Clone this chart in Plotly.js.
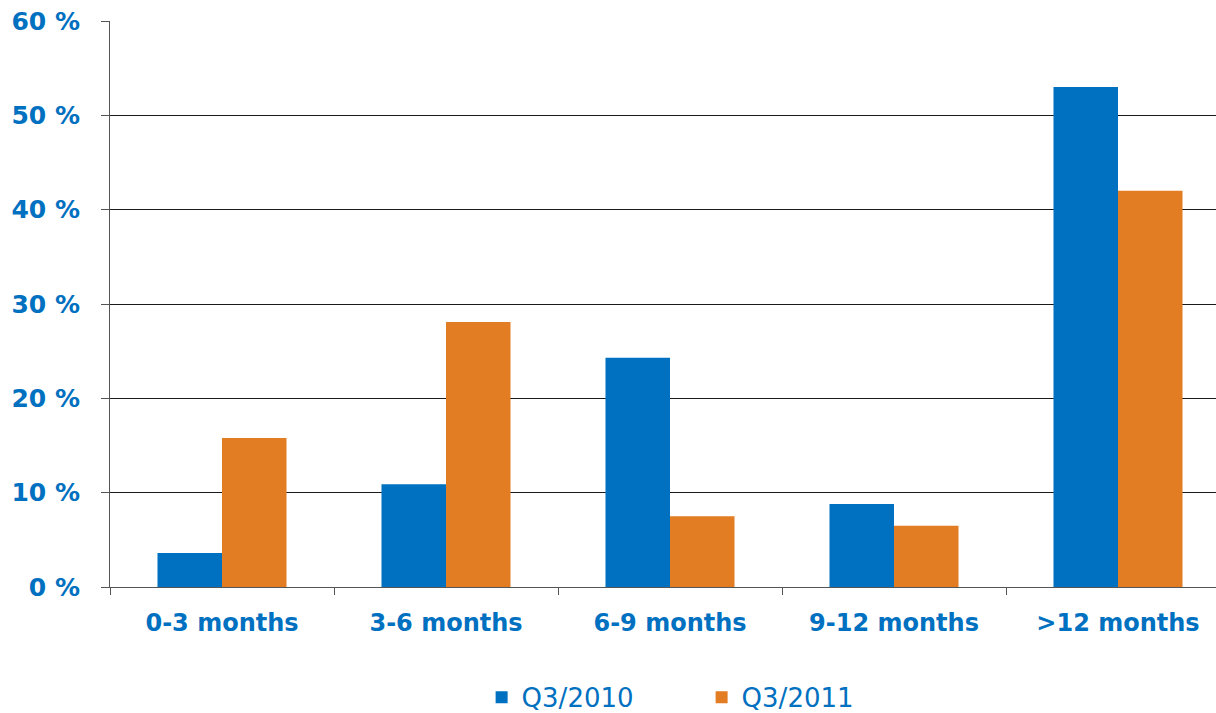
<!DOCTYPE html>
<html>
<head>
<meta charset="utf-8">
<script src="https://cdn.plot.ly/plotly-3.0.1.min.js"></script>
<style>html,body{margin:0;padding:0;background:#fff;}#chart{width:1216px;height:713px;}</style>
</head>
<body>
<div id="chart"></div>
<script>
const categories = ["0-3 months", "3-6 months", "6-9 months", "9-12 months", ">12 months"];
const q3_2010 = [3.6, 10.9, 24.3, 8.8, 53.0];
const q3_2011 = [15.8, 28.1, 7.5, 6.5, 42.0];
const seriesNames = ["Q3/2010", "Q3/2011"];
const yTickVals = [0, 10, 20, 30, 40, 50, 60];
const yTickText = ["0 %", "10 %", "20 %", "30 %", "40 %", "50 %", "60 %"];

const blue = "#0070C0", orange = "#E37D24";
const traces = [
  {type: "bar", x: categories, y: q3_2010, name: seriesNames[0], marker: {color: blue}},
  {type: "bar", x: categories, y: q3_2011, name: seriesNames[1], marker: {color: orange}}
];
const layout = {
  width: 1216, height: 713,
  margin: {l: 110, r: 0, t: 21, b: 126, autoexpand: false},
  paper_bgcolor: "#fff", plot_bgcolor: "#fff",
  barmode: "group", bargap: 0.424, bargroupgap: 0,
  font: {family: "DejaVu Sans, Verdana, sans-serif", color: blue},
  xaxis: {
    type: "category", range: [-0.5, 4.4375],
    tickson: "boundaries", ticks: "outside", ticklen: 7, tickcolor: "#555",
    showline: true, linecolor: "#555", linewidth: 1,
    tickfont: {size: 24, color: blue, family: "DejaVu Sans, Verdana, sans-serif", weight: "bold"},
    ticklabelstandoff: 14,
    showgrid: false, automargin: false
  },
  yaxis: {
    range: [0, 60], tickmode: "array", tickvals: yTickVals, ticktext: yTickText,
    ticks: "outside", ticklen: 8, tickcolor: "#555",
    showline: true, linecolor: "#555", linewidth: 1,
    showgrid: true, gridcolor: "#1a1a1a", gridwidth: 1,
    zeroline: false, automargin: false,
    tickfont: {size: 25, color: blue, family: "DejaVu Sans, Verdana, sans-serif", weight: "bold"},
    ticklabelstandoff: 16
  },
  showlegend: true,
  legend: {
    orientation: "h", x: 0.336, xanchor: "left", y: -0.195, yanchor: "middle",
    font: {size: 26, color: blue, family: "DejaVu Sans, Verdana, sans-serif"},
    entrywidth: 175, entrywidthmode: "pixels", itemwidth: 30, traceorder: "normal"
  }
};
Plotly.newPlot("chart", traces, layout, {displayModeBar: false, staticPlot: true});
</script>
</body>
</html>
